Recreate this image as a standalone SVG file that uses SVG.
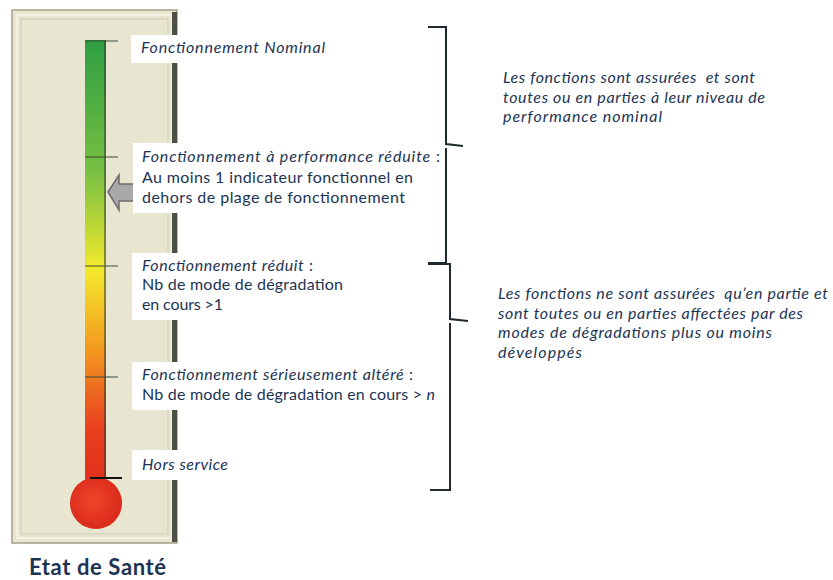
<svg xmlns="http://www.w3.org/2000/svg" width="833" height="580" viewBox="0 0 833 580">
<defs>
<style>
.lbl{font-family:Lato,"Open Sans","Liberation Sans",sans-serif;font-size:16px;fill:#1c3454}
.it{font-style:italic}
.box{fill:#ffffff}
.tick{stroke:#3a4a3a;stroke-width:1}
.brace{fill:none;stroke:#1e2a30;stroke-width:2}
</style>
<linearGradient id="tube" x1="0" y1="0" x2="0" y2="1">
<stop offset="0" stop-color="#2d9e42"/>
<stop offset="0.3" stop-color="#78c043"/>
<stop offset="0.52" stop-color="#f3ea2c"/>
<stop offset="0.7" stop-color="#f39a1f"/>
<stop offset="0.88" stop-color="#e8401f"/>
<stop offset="1" stop-color="#e2301c"/>
</linearGradient>
<radialGradient id="bulb" cx="0.45" cy="0.45" r="0.6">
<stop offset="0" stop-color="#f0452a"/>
<stop offset="1" stop-color="#d8281a"/>
</radialGradient>
</defs>
<rect width="833" height="580" fill="#ffffff"/>
<g id="panel">
<rect x="12" y="10" width="165" height="533" fill="#e8e5d0" stroke="#a3a08c" stroke-width="1.5"/>
<rect x="17" y="15" width="155" height="523" fill="none" stroke="#f6f4e8" stroke-width="1.5"/>
<rect x="21" y="19" width="147" height="515" fill="none" stroke="#cfccb6" stroke-width="1"/>
<rect x="172" y="12" width="5" height="530" fill="#4c4f44"/>
</g>
<g id="thermometer">
<rect x="85" y="40" width="21" height="440" fill="url(#tube)"/>
<line x1="105" y1="40" x2="105" y2="480" stroke="#2c3a2a" stroke-width="1.5" opacity="0.7"/>
<circle cx="96" cy="503" r="26" fill="url(#bulb)"/>
<line class="tick" x1="85" y1="41" x2="118" y2="41"/>
<line class="tick" x1="85" y1="157" x2="118" y2="157"/>
<line class="tick" x1="85" y1="266" x2="118" y2="266"/>
<line class="tick" x1="85" y1="377" x2="118" y2="377"/>
<line x1="90" y1="478" x2="122" y2="478" stroke="#111" stroke-width="2"/>
</g>
<g id="arrow">
<path d="M108,192 L119,175 L119,184 L135,184 L135,201 L119,201 L119,210 Z" fill="#a9a9ab" stroke="#6b6b6e" stroke-width="1.5" stroke-linejoin="miter"/>
</g>
<g id="n1">
<rect class="box" x="131" y="35" width="200" height="28"/>
<text class="lbl it" x="141" y="53" textLength="184" lengthAdjust="spacing">Fonctionnement Nominal</text>
</g>
<g id="n2">
<rect class="box" x="133" y="143" width="312" height="70"/>
<text class="lbl" x="142" y="162" textLength="298" lengthAdjust="spacing"><tspan class="it">Fonctionnement à performance réduite</tspan> :</text>
<text class="lbl" x="142" y="183" textLength="271" lengthAdjust="spacing">Au moins 1 indicateur fonctionnel en</text>
<text class="lbl" x="142" y="203" textLength="263" lengthAdjust="spacing">dehors de plage de fonctionnement</text>
</g>
<g id="n3">
<rect class="box" x="132" y="253" width="220" height="67"/>
<text class="lbl" x="142" y="271" textLength="171" lengthAdjust="spacing"><tspan class="it">Fonctionnement réduit</tspan> :</text>
<text class="lbl" x="142" y="290" textLength="201" lengthAdjust="spacing">Nb de mode de dégradation</text>
<text class="lbl" x="142" y="310" textLength="81" lengthAdjust="spacing">en cours &gt;1</text>
</g>
<g id="n4">
<rect class="box" x="132" y="362" width="310" height="48"/>
<text class="lbl" x="142" y="380" textLength="271" lengthAdjust="spacing"><tspan class="it">Fonctionnement sérieusement altéré</tspan> :</text>
<text class="lbl" x="142" y="400" textLength="293" lengthAdjust="spacing">Nb de mode de dégradation en cours &gt; <tspan class="it">n</tspan></text>
</g>
<g id="n5">
<rect class="box" x="132" y="450" width="110" height="30"/>
<text class="lbl it" x="142" y="470" textLength="86" lengthAdjust="spacing">Hors service</text>
</g>
<g id="connectors">
<path class="brace" d="M428,27 L446,27 L446,144 L463,146 M446,148 L446,263 L428,263"/>
<path class="brace" d="M428,264 L450,264 L450,319 L468,321 M450,323 L450,490 L430,490"/>
</g>
<g id="g1">
<text class="lbl it" x="503" y="83" textLength="252" lengthAdjust="spacing" xml:space="preserve">Les fonctions sont assurées  et sont</text>
<text class="lbl it" x="503" y="103" textLength="262" lengthAdjust="spacing">toutes ou en parties à leur niveau de</text>
<text class="lbl it" x="503" y="122" textLength="159" lengthAdjust="spacing">performance nominal</text>
</g>
<g id="g2">
<text class="lbl it" x="498" y="299" textLength="330" lengthAdjust="spacing" xml:space="preserve">Les fonctions ne sont assurées  qu’en partie et</text>
<text class="lbl it" x="498" y="319" textLength="305" lengthAdjust="spacing">sont toutes ou en parties affectées par des</text>
<text class="lbl it" x="498" y="338" textLength="274" lengthAdjust="spacing">modes de dégradations plus ou moins</text>
<text class="lbl it" x="498" y="358" textLength="84" lengthAdjust="spacing">développés</text>
</g>
<text x="29" y="575" font-family="Lato,'Open Sans',sans-serif" font-weight="bold" font-size="22" fill="#1c3454" textLength="137" lengthAdjust="spacing">Etat de Santé</text>
</svg>
